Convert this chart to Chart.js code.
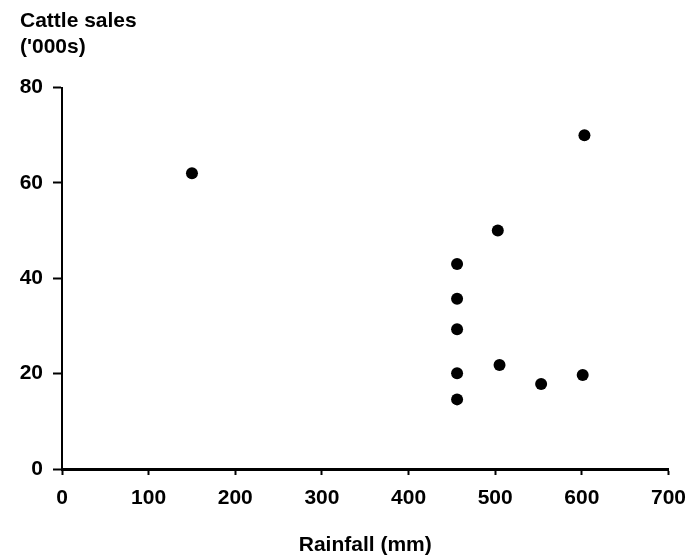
<!DOCTYPE html>
<html>
<head>
<meta charset="utf-8">
<script src="https://cdn.jsdelivr.net/npm/chart.js@4/dist/chart.umd.min.js"></script>
<style>
  html, body { margin: 0; padding: 0; background: #fff; }
  #wrap { width: 697px; height: 559px; }
</style>
</head>
<body>
<div id="wrap"><canvas id="cattleChart" width="697" height="559"></canvas></div>
<script>
// rainfall (mm) vs cattle sales ('000s)
const rainfall = [150, 456, 456, 456, 456, 456, 503, 505, 553, 603, 601];
const cattleSales = [62, 43, 35.7, 29.3, 20.1, 14.6, 50, 21.8, 17.8, 70, 19.7];
const xTicks = [0, 100, 200, 300, 400, 500, 600, 700];
const yTicks = [0, 20, 40, 60, 80];

const points = rainfall.map((r, i) => ({ x: r, y: cattleSales[i] }));

const font = { family: '"Liberation Sans", Arial, sans-serif', size: 21, weight: 'bold' };

const ctx = document.getElementById('cattleChart').getContext('2d');
window.myChart = new Chart(ctx, {
    type: 'scatter',
    data: {
        datasets: [{
            data: points,
            backgroundColor: '#000',
            borderWidth: 0,
            pointRadius: 6,
            pointHoverRadius: 6
        }]
    },
    options: {
        responsive: false,
        animation: false,
        layout: { padding: { left: 20, right: 27, top: 0, bottom: 0 } },
        plugins: {
            legend: { display: false },
            tooltip: { enabled: false },
            title: {
                display: true,
                text: ['Cattle sales', "('000s)"],
                align: 'start',
                color: '#000',
                font: { ...font, lineHeight: 1.25 },
                padding: { top: 8, bottom: 27 }
            }
        },
        scales: {
            x: {
                type: 'linear',
                min: xTicks[0],
                max: xTicks[xTicks.length - 1],
                afterBuildTicks: s => { s.ticks = xTicks.map(v => ({ value: v })); },
                afterFit: s => { s.height = 90; },
                border: { display: true, color: '#000', width: 3 },
                grid: { drawOnChartArea: false, drawTicks: true, tickLength: 6, tickWidth: 2, tickColor: '#000' },
                ticks: { color: '#000', font: font, padding: 11, maxRotation: 0 },
                title: {
                    display: true,
                    text: 'Rainfall (mm)',
                    color: '#000',
                    font: font,
                    padding: { top: 21, bottom: 1 }
                }
            },
            y: {
                type: 'linear',
                min: yTicks[0],
                max: yTicks[yTicks.length - 1],
                afterBuildTicks: s => { s.ticks = yTicks.map(v => ({ value: v })); },
                afterFit: s => { s.width = 42; },
                border: { display: true, color: '#000', width: 2 },
                grid: { drawOnChartArea: false, drawTicks: true, tickLength: 9, tickWidth: 2, tickColor: '#000' },
                ticks: { color: '#000', font: font, padding: 10 }
            }
        }
    }
});
</script>
</body>
</html>
